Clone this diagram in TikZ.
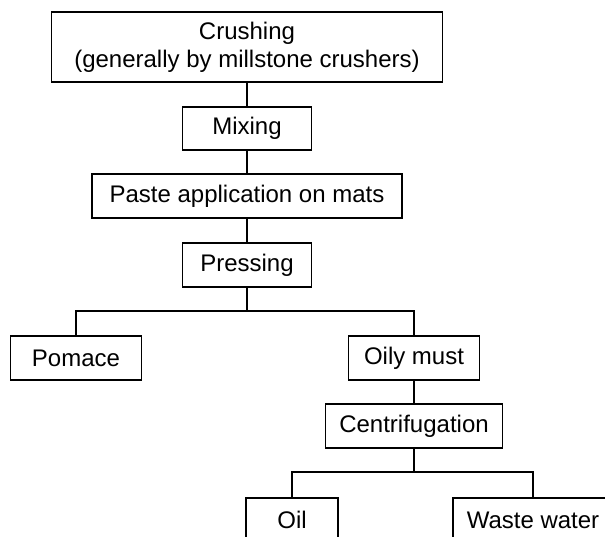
\documentclass[tikz,border=0pt]{standalone}
\usepackage{fontspec}
\setmainfont{Liberation Sans}
\begin{document}
\begin{tikzpicture}[x=1pt,y=-1pt,
  box/.style={draw, line width=1.5pt, inner sep=0pt, align=center,
    font=\fontsize{24}{28}\selectfont},
  conn/.style={line width=1.5pt}]
\useasboundingbox (0,0) rectangle (605,537);
\clip (0,0) rectangle (605,537);
\node[box, minimum width=391, minimum height=70] (crush) at (247,47) {Crushing\\(generally by millstone crushers)};
\node[box, minimum width=129, minimum height=43] (mix) at (247,128.5) {Mixing};
\node[box, minimum width=310, minimum height=44] (paste) at (247,196) {Paste application on mats};
\node[box, minimum width=129, minimum height=44] (press) at (247,265) {Pressing};
\node[box, minimum width=131, minimum height=44] (pomace) at (76,358) {Pomace};
\node[box, minimum width=131, minimum height=44] (oily) at (414,358) {Oily must};
\node[box, minimum width=177, minimum height=44] (centrif) at (414,426) {Centrifugation};
\node[box, minimum width=92, minimum height=44] (oil) at (292,520) {Oil};
\node[box, minimum width=160, minimum height=44] (waste) at (533,520) {Waste water};
\coordinate (b1) at (247,311);
\coordinate (b2) at (414,472);
\draw[conn] (crush) -- (mix);
\draw[conn] (mix) -- (paste);
\draw[conn] (paste) -- (press);
\draw[conn] (press) -- (b1);
\draw[conn] (b1) -| (pomace);
\draw[conn] (b1) -| (oily);
\draw[conn] (oily) -- (centrif);
\draw[conn] (centrif) -- (b2);
\draw[conn] (b2) -| (oil);
\draw[conn] (b2) -| (waste);
\end{tikzpicture}
\end{document}
